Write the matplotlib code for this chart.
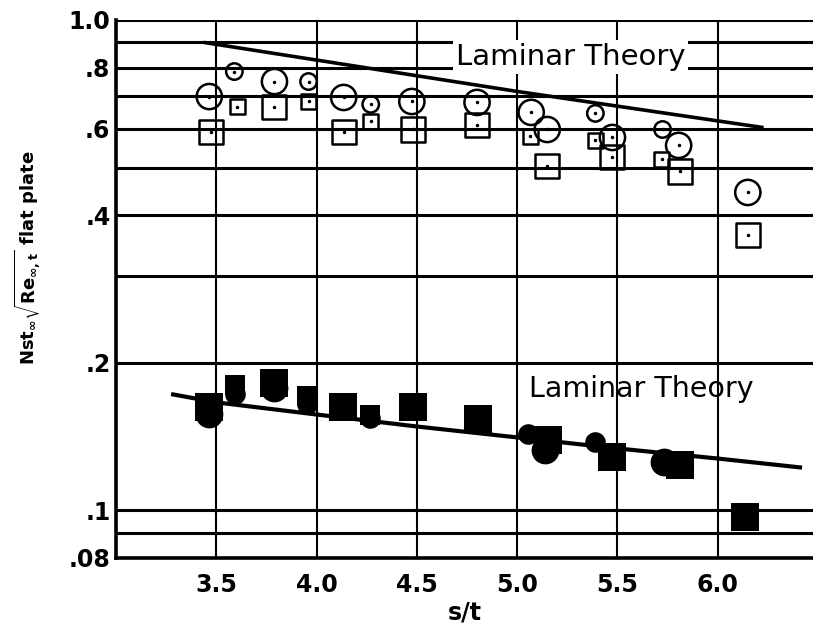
import matplotlib
matplotlib.use("Agg")
import matplotlib.pyplot as plt
from matplotlib.ticker import FixedLocator, FixedFormatter, NullLocator

plt.rcParams['font.family'] = ['DejaVu Sans']
plt.rcParams['mathtext.fontset'] = 'dejavusans'

# upper group: open symbols
open_circle_big_x = [3.465, 3.79, 4.135, 4.475, 4.80, 5.07, 5.15, 5.475, 5.805, 6.15]
open_circle_big_y = [0.698, 0.749, 0.695, 0.682, 0.679, 0.648, 0.598, 0.576, 0.555, 0.445]
open_circle_small_x = [3.59, 3.96, 4.27, 5.39, 5.725]
open_circle_small_y = [0.785, 0.749, 0.673, 0.645, 0.598]
open_square_big_x = [3.475, 3.79, 4.135, 4.48, 4.80, 5.15, 5.475, 5.81, 6.15]
open_square_big_y = [0.590, 0.666, 0.590, 0.598, 0.612, 0.503, 0.525, 0.491, 0.365]
open_square_small_x = [3.605, 3.96, 4.27, 5.065, 5.39, 5.72]
open_square_small_y = [0.666, 0.682, 0.621, 0.579, 0.568, 0.520]

# lower group: solid symbols
solid_square_big_x = [3.465, 3.79, 4.13, 4.48, 4.805, 5.155, 5.475, 5.81, 6.137]
solid_square_big_y = [0.1629, 0.1815, 0.1625, 0.1622, 0.1533, 0.1395, 0.1288, 0.1235, 0.0972]
solid_square_small_x = [3.595, 3.95, 4.265]
solid_square_small_y = [0.1803, 0.1708, 0.1569]
solid_circle_big_x = [3.465, 3.79, 5.14, 5.734]
solid_circle_big_y = [0.1576, 0.1773, 0.1330, 0.1253]
solid_circle_small_x = [3.595, 3.95, 4.265, 5.055, 5.39]
solid_circle_small_y = [0.1728, 0.1652, 0.1540, 0.1429, 0.1376]

# laminar theory curves
theory_upper_x = [3.445, 5.0, 6.22]
theory_upper_y = [0.899, 0.715, 0.604]
theory_lower_x = [3.285, 3.5, 4.0, 4.5, 5.0, 5.5, 6.0, 6.41]
theory_lower_y = [0.1724, 0.1661, 0.1569, 0.1483, 0.1409, 0.1338, 0.1276, 0.1224]

grid_y = [1.0, 0.9, 0.8, 0.7, 0.6, 0.5, 0.4, 0.3, 0.2, 0.1, 0.09, 0.08]
grid_x = [3.5, 4.0, 4.5, 5.0, 5.5, 6.0]
ytick_vals = [1.0, 0.8, 0.6, 0.4, 0.2, 0.1, 0.08]
ytick_labels = ['1.0', '.8', '.6', '.4', '.2', '.1', '.08']
xtick_vals = [3.5, 4.0, 4.5, 5.0, 5.5, 6.0]
xtick_labels = ['3.5', '4.0', '4.5', '5.0', '5.5', '6.0']

fig = plt.figure(figsize=(8.13, 6.34), dpi=100)
ax = fig.add_axes([0.1427, 0.1199, 0.8573, 0.8486])
ax.set_yscale('log')
ax.set_xlim(3.0, 6.475)
ax.set_ylim(0.08, 1.0)

for gy in grid_y:
    ax.axhline(gy, color='black', lw=2.2, zorder=1)
for gx in grid_x:
    ax.axvline(gx, color='black', lw=1.5, zorder=1)

ax.plot(theory_upper_x, theory_upper_y, color='black', lw=2.6, zorder=3)
ax.plot(theory_lower_x, theory_lower_y, color='black', lw=3.0, zorder=3)

mk = dict(facecolors='none', edgecolors='black', linewidths=1.8, zorder=4)
ax.scatter(open_circle_big_x, open_circle_big_y, s=330, marker='o', **mk)
ax.scatter(open_circle_small_x, open_circle_small_y, s=140, marker='o', **mk)
ax.scatter(open_square_big_x, open_square_big_y, s=300, marker='s', **mk)
ax.scatter(open_square_small_x, open_square_small_y, s=120, marker='s', **mk)
for xs, ys in [(open_circle_big_x, open_circle_big_y), (open_circle_small_x, open_circle_small_y),
               (open_square_big_x, open_square_big_y), (open_square_small_x, open_square_small_y)]:
    ax.plot(xs, ys, 'k.', ms=3, zorder=5)

sk = dict(color='black', zorder=4, linewidths=0)
ax.scatter(solid_square_big_x, solid_square_big_y, s=400, marker='s', **sk)
ax.scatter(solid_square_small_x, solid_square_small_y, s=190, marker='s', **sk)
ax.scatter(solid_circle_big_x, solid_circle_big_y, s=400, marker='o', **sk)
ax.scatter(solid_circle_small_x, solid_circle_small_y, s=220, marker='o', **sk)

ax.text(4.694, 0.811, 'Laminar Theory', fontsize=21, ha='left', va='baseline', zorder=2,
        bbox=dict(fc='white', ec='none', pad=2))
ax.text(5.057, 0.170, 'Laminar Theory', fontsize=20.5, ha='left', va='baseline', zorder=2)

ax.yaxis.set_major_locator(FixedLocator(ytick_vals))
ax.yaxis.set_major_formatter(FixedFormatter(ytick_labels))
ax.yaxis.set_minor_locator(NullLocator())
ax.set_xticks(xtick_vals)
ax.set_xticklabels(xtick_labels)
ax.tick_params(axis='both', length=0, labelsize=17)
ax.tick_params(axis='y', pad=4)
ax.tick_params(axis='x', pad=11)
for lab in ax.get_xticklabels() + ax.get_yticklabels():
    lab.set_fontweight('bold')

for side in ['top', 'right']:
    ax.spines[side].set_visible(False)
for side in ['left', 'bottom']:
    ax.spines[side].set_linewidth(2.6)

ax.set_xlabel('s/t', fontsize=17, fontweight='bold', labelpad=2)
fig.text(0.034, 0.593, r'Nst$_{\mathbf{\infty}}\sqrt{\mathbf{Re}_{\mathbf{\infty,t}}}$ flat plate',
         rotation=90, fontsize=13, fontweight='bold', ha='center', va='center')

fig.savefig('out.png', dpi=100)
